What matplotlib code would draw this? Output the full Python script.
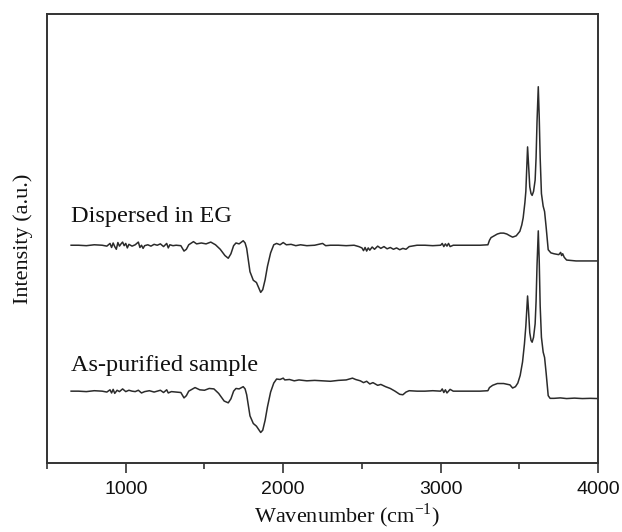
import matplotlib
matplotlib.use("Agg")
import matplotlib.pyplot as plt
from matplotlib.ticker import MultipleLocator

# Top spectrum: Dispersed in EG
wn_eg = [653, 700, 750, 800, 850, 880, 900, 910, 920, 930, 940, 950, 960, 970, 980, 990,
         1000, 1010, 1020, 1040, 1060, 1080, 1090, 1100, 1110, 1120, 1140, 1160, 1180, 1200,
         1220, 1240, 1260, 1270, 1280, 1300, 1320, 1350, 1370, 1385, 1400, 1430, 1450, 1480,
         1510, 1540, 1570, 1600, 1630, 1651, 1668, 1685, 1700, 1720, 1746, 1758, 1768, 1789,
         1800, 1810, 1830, 1845, 1857, 1870, 1885, 1900, 1920, 1940, 1958, 1980, 2000, 2020,
         2050, 2080, 2110, 2150, 2200, 2250, 2270, 2300, 2350, 2400, 2450, 2480, 2500, 2510,
         2520, 2530, 2540, 2550, 2565, 2580, 2600, 2620, 2640, 2660, 2680, 2700, 2720, 2740,
         2760, 2780, 2800, 2850, 2900, 2950, 3000, 3010, 3020, 3030, 3040, 3050, 3060, 3080,
         3150, 3200, 3250, 3300, 3310, 3320, 3340, 3360, 3380, 3400, 3420, 3440, 3457, 3480,
         3503, 3515, 3524, 3535, 3541, 3547, 3552, 3558, 3566, 3574, 3581, 3590, 3600, 3606,
         3612, 3620, 3626, 3632, 3640, 3651, 3660, 3670, 3683, 3700, 3720, 3750, 3762, 3768,
         3775, 3785, 3800, 3830, 3860, 3900, 3950, 4000]
int_eg = [48.5, 48.5, 48.4, 48.6, 48.5, 48.3, 48.9, 48.0, 49.0, 48.2, 47.6, 49.1, 48.3, 48.8, 49.2, 48.4,
          48.9, 47.9, 48.7, 48.3, 48.6, 49.2, 48.0, 48.5, 47.8, 48.4, 48.6, 48.3, 48.7, 48.5,
          48.8, 48.2, 48.9, 47.9, 48.6, 48.4, 48.5, 48.4, 47.2, 47.6, 48.6, 49.3, 48.8, 49.0,
          48.8, 49.2, 48.6, 47.6, 46.2, 45.6, 46.6, 48.4, 49.0, 48.8, 49.5, 49.0, 47.8, 42.6,
          41.6, 40.7, 40.2, 39.0, 38.0, 38.6, 40.8, 43.8, 46.8, 48.6, 48.9, 48.6, 49.1, 48.6,
          48.7, 48.4, 48.6, 48.4, 48.5, 48.9, 48.4, 48.5, 48.5, 48.4, 48.5, 48.2, 47.9, 47.3,
          48.0, 47.2, 47.9, 47.4, 48.1, 47.6, 48.3, 47.8, 48.2, 47.7, 48.0, 47.6, 47.9, 47.5,
          47.8, 47.6, 48.2, 48.5, 48.5, 48.4, 48.5, 48.9, 48.2, 48.8, 48.3, 48.9, 48.2, 48.5,
          48.5, 48.5, 48.5, 48.6, 49.6, 50.2, 50.6, 51.0, 51.2, 51.2, 51.0, 50.6, 50.3, 50.6,
          51.6, 53.0, 54.6, 58.0, 60.5, 66.0, 70.4, 66.5, 61.5, 60.0, 59.6, 60.5, 63.0, 68.0,
          76.0, 83.8, 77.0, 68.0, 60.0, 57.2, 56.0, 52.5, 47.5, 46.8, 46.6, 46.4, 46.9, 46.2,
          46.6, 45.8, 45.2, 45.1, 45.0, 45.0, 45.0, 45.0]

# Bottom spectrum: As-purified sample
wn_ap = [653, 700, 750, 800, 850, 880, 900, 910, 920, 930, 945, 960, 980, 1000, 1020, 1040,
         1060, 1080, 1100, 1120, 1150, 1180, 1200, 1220, 1240, 1260, 1270, 1290, 1320, 1350,
         1370, 1385, 1400, 1440, 1470, 1500, 1530, 1560, 1590, 1625, 1651, 1668, 1685, 1700,
         1720, 1746, 1758, 1768, 1789, 1800, 1810, 1830, 1845, 1857, 1870, 1885, 1900, 1920,
         1940, 1958, 1980, 2000, 2010, 2040, 2070, 2100, 2150, 2200, 2250, 2300, 2350, 2400,
         2440, 2460, 2490, 2510, 2530, 2550, 2570, 2600, 2620, 2650, 2680, 2710, 2740, 2760,
         2780, 2800, 2850, 2900, 2950, 3000, 3010, 3020, 3030, 3040, 3060, 3080, 3150, 3200,
         3250, 3300, 3310, 3330, 3360, 3400, 3440, 3457, 3475, 3490, 3505, 3520, 3532, 3541,
         3547, 3552, 3558, 3566, 3574, 3581, 3590, 3600, 3606, 3612, 3620, 3626, 3632, 3640,
         3651, 3660, 3670, 3683, 3695, 3720, 3760, 3800, 3850, 3900, 3950, 4000]
int_ap = [16.0, 16.0, 15.9, 16.1, 16.0, 15.8, 16.3, 15.6, 16.4, 15.5, 16.2, 15.9, 16.5, 15.9, 16.2, 16.0,
          15.9, 16.2, 15.6, 15.9, 16.1, 15.8, 16.0, 16.2, 15.7, 16.3, 15.6, 15.9, 15.8, 15.7,
          14.5, 15.0, 16.0, 16.8, 16.3, 16.2, 16.6, 16.5, 15.5, 13.8, 13.4, 14.3, 16.0, 16.6,
          16.5, 17.0, 16.5, 15.2, 10.5, 9.6, 8.8, 8.2, 7.4, 6.8, 7.3, 9.5, 12.5, 15.8,
          17.8, 18.7, 18.6, 18.9, 18.5, 18.6, 18.3, 18.5, 18.3, 18.4, 18.3, 18.2, 18.4, 18.5,
          18.9, 18.6, 18.3, 17.9, 18.2, 17.6, 17.9, 17.3, 17.5, 17.0, 16.6, 16.0, 15.3, 15.2,
          15.8, 16.1, 16.0, 16.0, 16.1, 16.0, 16.5, 15.7, 16.3, 15.6, 16.4, 16.0, 16.0, 16.0,
          16.0, 16.1, 16.8, 17.3, 17.7, 17.7, 17.4, 16.7, 17.0, 17.8, 19.5, 22.5, 26.5, 30.5,
          34.0, 37.2, 34.0, 29.0, 27.3, 26.9, 28.0, 31.0, 36.0, 44.0, 51.7, 45.0, 35.0, 28.0,
          24.7, 23.5, 20.0, 15.0, 14.4, 14.4, 14.5, 14.35, 14.45, 14.35, 14.4, 14.35]

labels = ["Dispersed in EG", "As-purified sample"]
xticks = [1000, 2000, 3000, 4000]

fig = plt.figure(figsize=(6.22, 5.32), dpi=100)
ax = fig.add_axes([0.0756, 0.1297, 0.886, 0.8440])

line_color = "#2b2b2b"
ax.plot(wn_eg, int_eg, color=line_color, lw=1.1)
ax.plot(wn_ap, int_ap, color=line_color, lw=1.1)

serif = ["Liberation Serif", "DejaVu Serif"]
ax.text(653, 55.0, labels[0], fontsize=17.5, family=serif, va="center", ha="left", color="#111111")
ax.text(653, 21.8, labels[1], fontsize=17.5, family=serif, va="center", ha="left", color="#111111")

ax.set_xlim(500, 4000)
ax.set_ylim(0, 100)
ax.set_xticks(xticks)
ax.xaxis.set_minor_locator(MultipleLocator(500))
ax.set_yticks([])
ax.tick_params(axis="x", which="major", direction="out", length=7, width=1.2, colors="#333333",
               labelsize=14, labelcolor="#111111", pad=6)
ax.tick_params(axis="x", which="minor", direction="out", length=4, width=1.2, colors="#333333")
for lab in ax.get_xticklabels():
    lab.set_family(["Liberation Sans", "DejaVu Sans"])
for sp in ax.spines.values():
    sp.set_color("#333333")
    sp.set_linewidth(1.4)

ax.set_xlabel("Wavenumber (cm$^{\\mathregular{-1}}$)", fontsize=16, family=serif, color="#111111")
ax.xaxis.set_label_coords(0.544, -0.086)
ax.set_ylabel("Intensity (a.u.)", fontsize=16, family=serif, labelpad=10, color="#111111")

fig.savefig("out.png", dpi=100)
